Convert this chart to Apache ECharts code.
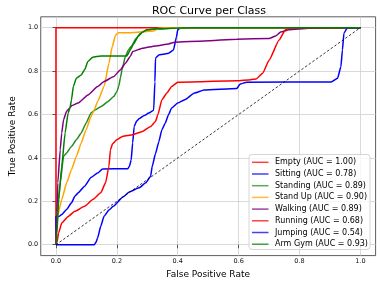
<!DOCTYPE html>
<html>
<head>
<meta charset="utf-8">
<script src="https://cdn.jsdelivr.net/npm/echarts@6/dist/echarts.min.js"></script>
<style>html,body{margin:0;padding:0;background:#fff}#c{width:381px;height:284px}</style>
</head>
<body>
<div id="c"></div>
<script>
// ---- data (FPR, TPR) ----
const classNames = ['Empty','Sitting','Standing','Stand Up','Walking','Running','Jumping','Arm Gym'];
const aucValues = [1.00, 0.78, 0.89, 0.90, 0.89, 0.68, 0.54, 0.93];
const tickValues = [0, 0.2, 0.4, 0.6, 0.8, 1.0];

const rocEmpty = [[0,0],[0,1],[1,1]];
const rocSitting = [[0,0],[0,0.13],[0.01,0.13],[0.019,0.139],[0.035,0.162],[0.051,0.193],[0.062,0.223],[0.073,0.239],[0.094,0.269],[0.115,0.31],[0.137,0.33],[0.153,0.349],[0.236,0.35],[0.241,0.36],[0.247,0.39],[0.252,0.47],[0.257,0.545],[0.265,0.57],[0.273,0.58],[0.29,0.595],[0.305,0.607],[0.321,0.62],[0.325,0.75],[0.327,0.86],[0.338,0.874],[0.354,0.878],[0.37,0.882],[0.386,0.897],[0.396,0.958],[0.40,0.99],[0.41,1.0],[1,1]];
const rocStanding = [[0,0],[0.003,0.13],[0.014,0.285],[0.025,0.407],[0.035,0.423],[0.051,0.453],[0.067,0.484],[0.083,0.515],[0.099,0.56],[0.115,0.607],[0.13,0.622],[0.15,0.638],[0.169,0.658],[0.19,0.683],[0.2,0.705],[0.206,0.729],[0.212,0.77],[0.217,0.806],[0.228,0.867],[0.238,0.897],[0.247,0.913],[0.263,0.95],[0.279,0.977],[0.3,0.99],[0.327,0.994],[0.38,0.997],[0.45,1],[1,1]];
const rocStandUp = [[0,0],[0.003,0.055],[0.005,0.13],[0.019,0.208],[0.035,0.285],[0.051,0.346],[0.067,0.407],[0.083,0.469],[0.099,0.53],[0.115,0.59],[0.126,0.622],[0.137,0.66],[0.158,0.729],[0.174,0.836],[0.185,0.913],[0.196,0.966],[0.206,0.977],[0.244,0.977],[0.321,0.985],[0.338,0.997],[0.36,1],[1,1]];
const rocWalking = [[0,0],[0.003,0.15],[0.006,0.285],[0.014,0.438],[0.019,0.515],[0.025,0.576],[0.035,0.615],[0.046,0.63],[0.051,0.64],[0.073,0.653],[0.105,0.69],[0.137,0.729],[0.158,0.752],[0.19,0.775],[0.212,0.806],[0.228,0.836],[0.244,0.867],[0.252,0.89],[0.284,0.905],[0.327,0.916],[0.37,0.925],[0.39,0.933],[0.487,0.939],[0.594,0.947],[0.70,0.95],[0.722,0.962],[0.738,0.98],[0.765,0.99],[0.83,0.997],[0.9,1],[1,1]];
const rocRunning = [[0,0],[0.003,0.01],[0.009,0.055],[0.019,0.1],[0.04,0.13],[0.062,0.154],[0.094,0.177],[0.121,0.208],[0.147,0.239],[0.163,0.285],[0.174,0.361],[0.179,0.438],[0.186,0.465],[0.2,0.484],[0.22,0.5],[0.252,0.507],[0.284,0.522],[0.311,0.545],[0.327,0.568],[0.335,0.6],[0.348,0.668],[0.365,0.7],[0.38,0.729],[0.40,0.749],[0.594,0.755],[0.64,0.76],[0.658,0.764],[0.679,0.79],[0.70,0.85],[0.733,0.943],[0.754,0.99],[0.77,0.999],[0.8,1],[1,1]];
const rocJumping = [[0,0],[0.126,0],[0.131,0.01],[0.137,0.032],[0.147,0.085],[0.158,0.131],[0.174,0.16],[0.188,0.177],[0.22,0.22],[0.241,0.243],[0.273,0.262],[0.295,0.285],[0.311,0.315],[0.316,0.36],[0.327,0.42],[0.338,0.475],[0.348,0.53],[0.359,0.56],[0.37,0.6],[0.38,0.63],[0.40,0.653],[0.423,0.668],[0.455,0.699],[0.487,0.713],[0.594,0.72],[0.605,0.74],[0.626,0.749],[0.904,0.75],[0.925,0.767],[0.936,0.82],[0.941,0.897],[0.946,0.974],[0.957,1],[1,1]];
const rocArmGym = [[0,0],[0.003,0.05],[0.009,0.208],[0.019,0.361],[0.03,0.515],[0.04,0.607],[0.046,0.63],[0.051,0.667],[0.057,0.729],[0.067,0.767],[0.083,0.782],[0.094,0.806],[0.105,0.844],[0.121,0.864],[0.147,0.87],[0.233,0.87],[0.244,0.897],[0.255,0.925],[0.27,0.96],[0.285,0.98],[0.3,0.99],[0.33,0.995],[0.4,0.998],[0.5,1],[1,1]];
const chanceLine = [[0,0],[1,1]];

const rocCurves = [rocEmpty, rocSitting, rocStanding, rocStandUp, rocWalking, rocRunning, rocJumping, rocArmGym];
const lineColors = ['#ff0000','#0000ff','#228b22','#ffa500','#800080','#ff0000','#0000ff','#008000'];

const FONT = 'DejaVu Sans';
const chart = echarts.init(document.getElementById('c'), null, {renderer: 'canvas'});

const series = rocCurves.map((d, i) => ({
  name: classNames[i] + ' (AUC = ' + aucValues[i].toFixed(2) + ')',
  type: 'line',
  data: d,
  showSymbol: false,
  symbol: 'none',
  smooth: 0.15,
  smoothMonotone: 'x',
  lineStyle: {color: lineColors[i], width: 1.5},
  itemStyle: {color: lineColors[i], opacity: 0.75},
  animation: false,
  z: 3
}));
series.push({
  name: 'chance',
  type: 'line',
  data: chanceLine,
  showSymbol: false,
  symbol: 'none',
  lineStyle: {color: '#000', width: 0.8, type: [2.5, 2]},
  animation: false,
  z: 3
});

const axisCommon = {
  type: 'value',
  min: -0.05,
  max: 1.05,
  axisLine: {show: false},
  axisTick: {show: true, length: 3.5, inside: false, customValues: tickValues, lineStyle: {color: '#333', width: 0.8}},
  axisLabel: {customValues: tickValues, fontFamily: FONT, fontSize: 6.5, color: '#111', margin: 2.5,
    formatter: v => v.toFixed(1)},
  splitLine: {show: true, lineStyle: {color: '#cfcfcf', width: 0.8}},
  nameLocation: 'middle',
  nameTextStyle: {fontFamily: FONT, fontSize: 9, color: '#000'}
};

chart.setOption({
  animation: false,
  title: {
    text: 'ROC Curve per Class',
    left: 204, top: 1, textAlign: 'center',
    textStyle: {fontFamily: FONT, fontSize: 11, fontWeight: 'normal', color: '#000'}
  },
  grid: {left: 32.4, right: 5.4, top: 16.8, bottom: 27.8, show: true, borderColor: '#333', borderWidth: 0.8, backgroundColor: 'transparent'},
  xAxis: Object.assign({}, axisCommon, {name: 'False Positive Rate', nameGap: 12}),
  yAxis: Object.assign({}, axisCommon, {name: 'True Positive Rate', nameGap: 21.5}),
  legend: {
    data: series.slice(0, 8).map(s => s.name),
    orient: 'vertical',
    left: 252, top: 157.3,
    padding: 0,
    icon: 'rect',
    itemWidth: 16.5, itemHeight: 1.5, itemGap: 1.7,
    textStyle: {fontFamily: FONT, fontSize: 8, color: '#000', lineHeight: 10, padding: [0,0,0,1.5]},
    z: 20
  },
  graphic: [{
    type: 'rect', z: 10,
    shape: {x: 249, y: 154.5, width: 121, height: 95, r: 3},
    style: {fill: 'rgba(255,255,255,0.8)', stroke: '#cccccc', lineWidth: 0.8}
  }],
  series: series
});
</script>
</body>
</html>
